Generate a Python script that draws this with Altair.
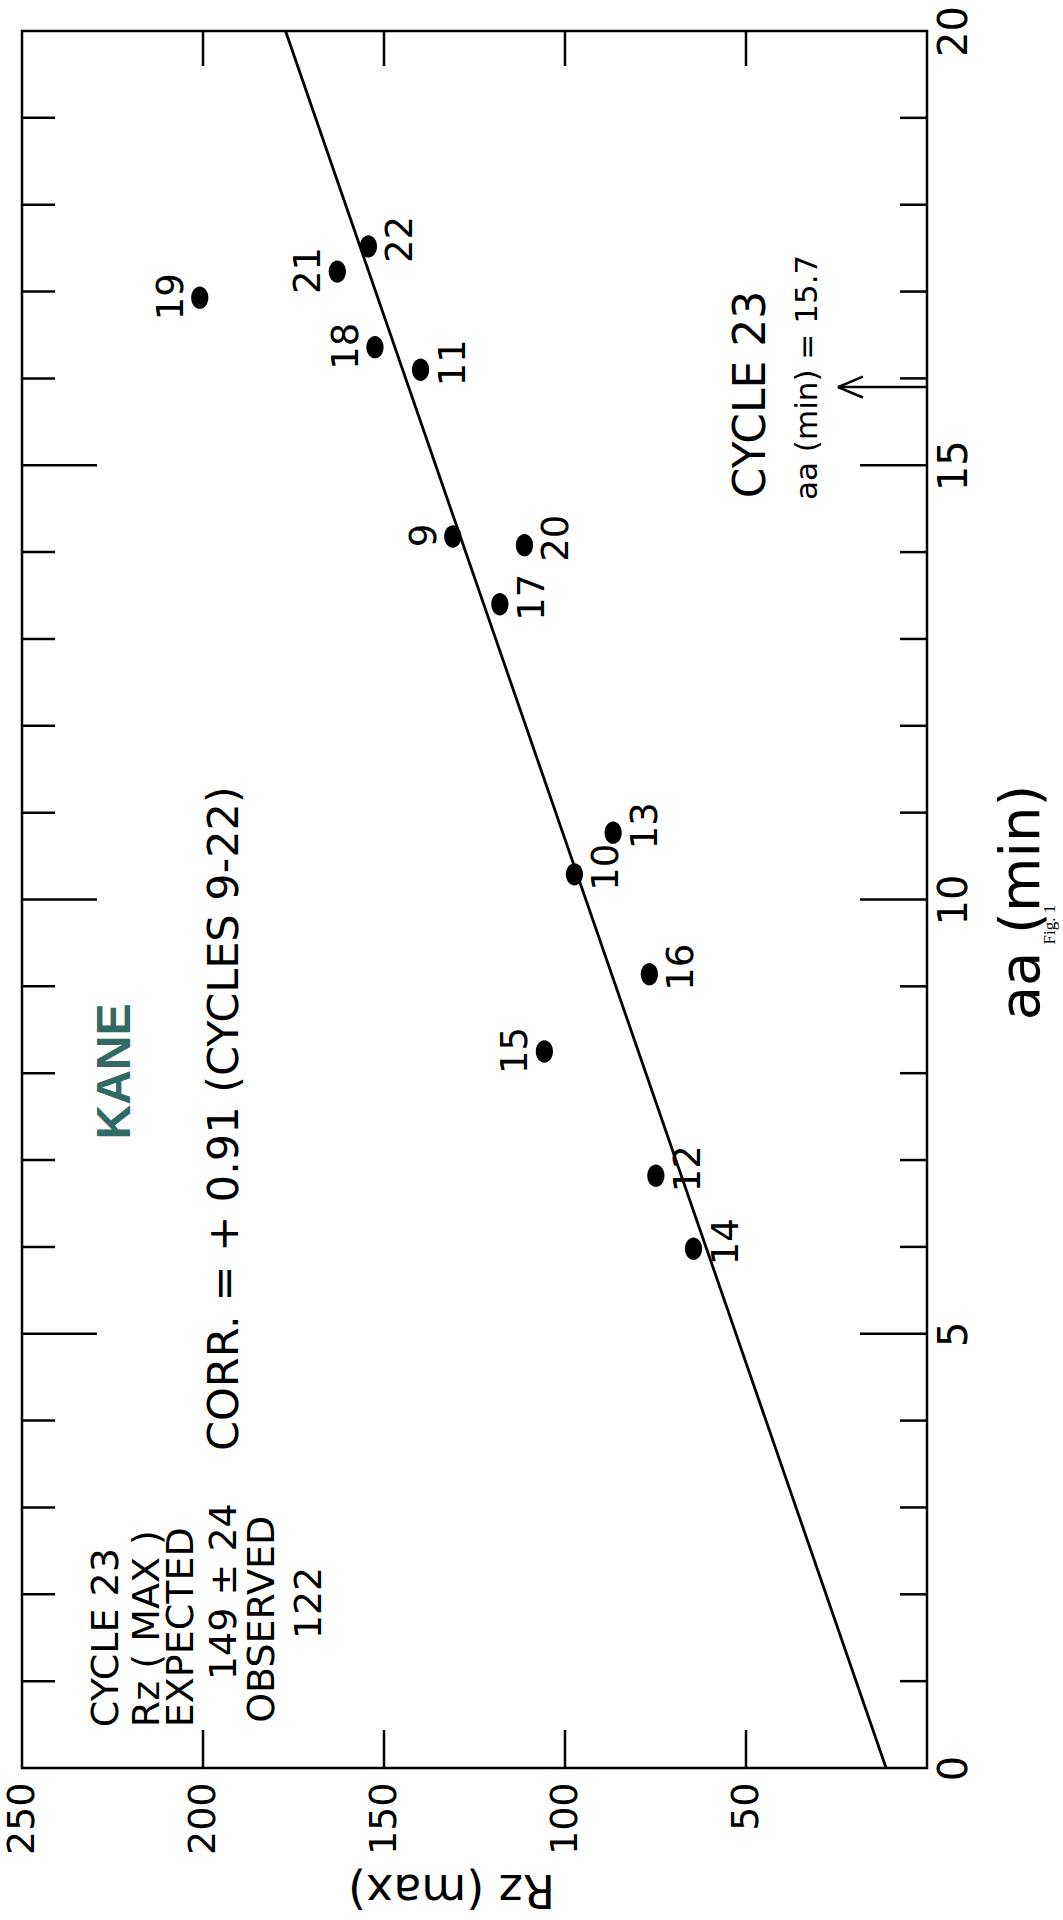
import altair as alt
import pandas as pd

# ---- data ----
cycles = [9, 10, 11, 12, 13, 14, 15, 16, 17, 18, 19, 20, 21, 22]
aa_min = [14.18, 10.29, 16.10, 6.82, 10.77, 5.98, 8.25, 9.14, 13.40, 16.36, 16.93, 14.08, 17.23, 17.52]
rz_max = [131.0, 97.4, 139.9, 74.9, 86.7, 64.5, 105.7, 76.7, 118.0, 152.5, 200.9, 111.2, 162.9, 154.3]
label_side = ["left", "right", "right", "right", "right", "right", "left",
              "right", "right", "left", "left", "right", "left", "right"]

fit_aa = [0.0, 20.0]
fit_rz = [11.3, 177.2]

rz_ticks = [50, 100, 150, 200]
rz_labels = [50, 100, 150, 200, 250]
aa_labels = [0, 5, 10, 15, 20]
aa_minor = [1, 2, 3, 4, 6, 7, 8, 9, 11, 12, 13, 14, 16, 17, 18, 19]
aa_major = [5, 10, 15]

# arrow marking cycle 23 aa(min)
arrow_aa = 15.9
arrow_tip_rz = 24.6
arrow_wing_rz = 17.7
arrow_wing_da = 0.12

ann_left_text = ["CYCLE 23", "Rz ( MAX )", "EXPECTED", "OBSERVED"]
ann_left_rz = [226.5, 215.2, 205.8, 183.4]
ann_left_aa = [0.47, 0.47, 0.47, 0.52]

ann_center_text = ["149 ± 24", "122"]
ann_center_rz = [193.9, 170.4]
ann_center_aa = [2.03, 1.90]

corr_text = ["CORR. = + 0.91 (CYCLES 9-22)"]
corr_rz = [193.9]
corr_aa = [3.65]

cyc_text = ["CYCLE 23"]
cyc_rz = [48.3]
cyc_aa = [14.62]

aamin_text = ["aa (min) = 15.7"]
aamin_rz = [32.9]
aamin_aa = [14.60]

kane_text = ["KANE"]
kane_rz = [224.0]
kane_aa = [8.02]

fig_text = ["Fig. 1"]
fig_rz = [-34.0]
fig_aa = [9.71]

# ---- tables ----
pts = pd.DataFrame({"cycle": cycles, "aa": aa_min, "Rz": rz_max, "side": label_side})
pts["lab"] = pts["cycle"].astype(str)
fit = pd.DataFrame({"aa": fit_aa, "Rz": fit_rz})
rzt = pd.DataFrame({"Rz": rz_ticks})
aam = pd.DataFrame({"aa": aa_minor})
aaM = pd.DataFrame({"aa": aa_major})
arrow_shaft = pd.DataFrame({"aa": [arrow_aa], "Rz": [0.0], "Rz2": [arrow_tip_rz]})
arrow_wings = pd.DataFrame({
    "Rz": [arrow_tip_rz, arrow_tip_rz],
    "Rz2": [arrow_wing_rz, arrow_wing_rz],
    "aa": [arrow_aa, arrow_aa],
    "aa2": [arrow_aa + arrow_wing_da, arrow_aa - arrow_wing_da],
})
annL = pd.DataFrame({"text": ann_left_text, "Rz": ann_left_rz, "aa": ann_left_aa})
annC = pd.DataFrame({"text": ann_center_text, "Rz": ann_center_rz, "aa": ann_center_aa})
corr = pd.DataFrame({"text": corr_text, "Rz": corr_rz, "aa": corr_aa})
cyc = pd.DataFrame({"text": cyc_text, "Rz": cyc_rz, "aa": cyc_aa})
aamin = pd.DataFrame({"text": aamin_text, "Rz": aamin_rz, "aa": aamin_aa})
kane = pd.DataFrame({"text": kane_text, "Rz": kane_rz, "aa": kane_aa})
fig = pd.DataFrame({"text": fig_text, "Rz": fig_rz, "aa": fig_aa})

W, H = 905, 1737
FONT = "DejaVu Sans"
xs = alt.Scale(domain=[0, 250], reverse=True)
ys = alt.Scale(domain=[0, 20])

X_axis = alt.Axis(values=rz_labels, labelAngle=270, labelAlign="right", labelBaseline="middle",
                  labelFontSize=38, labelPadding=14, labelFlush=False, labelOverlap=False,
                  ticks=False, domain=False, grid=False,
                  title="Rz (max)", titleAngle=180, titleFontSize=46, titleAlign="center",
                  titleBaseline="alphabetic", titleX=429, titleY=106)
Y_axis = alt.Axis(orient="right", values=aa_labels, labelAngle=270, labelAlign="center",
                  labelBaseline="top", labelFontSize=40, labelPadding=7, labelFlush=False,
                  labelOverlap=False, ticks=False, domain=False, grid=False,
                  title="aa (min)", titleAngle=270, titleFontSize=56, titleAlign="center",
                  titleBaseline="middle", titleX=94, titleY=871)


def X():
    return alt.X("Rz:Q", scale=xs, axis=X_axis)


def Y():
    return alt.Y("aa:Q", scale=ys, axis=Y_axis)


ellipse = "M0,-1A0.77,1,0,1,1,0,1A0.77,1,0,1,1,0,-1Z"

points = alt.Chart(pts).mark_point(shape=ellipse, filled=True, size=500, color="black",
                                   opacity=1, strokeWidth=0).encode(x=X(), y=Y())

line = alt.Chart(fit).mark_line(color="black", strokeWidth=2.8).encode(x=X(), y=Y())

# dx/dy are applied in the rotated text frame: screen (sx, sy) -> dx=-sy, dy=sx
lab_right = alt.Chart(pts).transform_filter("datum.side == 'right'").mark_text(
    angle=270, align="center", baseline="middle", dx=7, dy=33, fontSize=37, font=FONT, color="black"
).encode(x=X(), y=Y(), text="lab:N")
lab_left = alt.Chart(pts).transform_filter("datum.side == 'left'").mark_text(
    angle=270, align="center", baseline="middle", dx=1, dy=-28, fontSize=37, font=FONT, color="black"
).encode(x=X(), y=Y(), text="lab:N")

tick_bottom = alt.Chart(rzt).mark_rule(color="black", strokeWidth=2.5).encode(
    x=X(), y=alt.value(H), y2=alt.value(H - 38))
tick_top = alt.Chart(rzt).mark_rule(color="black", strokeWidth=2.5).encode(
    x=X(), y=alt.value(0), y2=alt.value(35))
tick_left_m = alt.Chart(aam).mark_rule(color="black", strokeWidth=2.5).encode(
    y=Y(), x=alt.value(0), x2=alt.value(33))
tick_left_M = alt.Chart(aaM).mark_rule(color="black", strokeWidth=2.5).encode(
    y=Y(), x=alt.value(0), x2=alt.value(75))
tick_right_m = alt.Chart(aam).mark_rule(color="black", strokeWidth=2.5).encode(
    y=Y(), x=alt.value(W), x2=alt.value(W - 27))
tick_right_M = alt.Chart(aaM).mark_rule(color="black", strokeWidth=2.5).encode(
    y=Y(), x=alt.value(W), x2=alt.value(W - 67))

shaft = alt.Chart(arrow_shaft).mark_rule(color="black", strokeWidth=2.5).encode(
    x=X(), x2="Rz2:Q", y=Y())
wings = alt.Chart(arrow_wings).mark_rule(color="black", strokeWidth=2.5).encode(
    x=X(), x2="Rz2:Q", y=Y(), y2="aa2:Q")

annL_c = alt.Chart(annL).mark_text(angle=270, align="left", baseline="middle", fontSize=38,
                                   font=FONT, color="black").encode(x=X(), y=Y(), text="text:N")
annC_c = alt.Chart(annC).mark_text(angle=270, align="center", baseline="middle", fontSize=38,
                                   font=FONT, color="black").encode(x=X(), y=Y(), text="text:N")
corr_c = alt.Chart(corr).mark_text(angle=270, align="left", baseline="middle", fontSize=43,
                                   font=FONT, color="black").encode(x=X(), y=Y(), text="text:N")
cyc_c = alt.Chart(cyc).mark_text(angle=270, align="left", baseline="middle", fontSize=44,
                                 font=FONT, color="black").encode(x=X(), y=Y(), text="text:N")
aamin_c = alt.Chart(aamin).mark_text(angle=270, align="left", baseline="middle", fontSize=31,
                                     font=FONT, color="black").encode(x=X(), y=Y(), text="text:N")
kane_c = alt.Chart(kane).mark_text(angle=270, align="center", baseline="middle", fontSize=48,
                                   fontWeight="bold", font="Liberation Sans",
                                   color="#336964").encode(x=X(), y=Y(), text="text:N")
fig_c = alt.Chart(fig).mark_text(angle=270, align="center", baseline="middle", fontSize=17,
                                 font="Liberation Serif", color="black").encode(
    x=X(), y=Y(), text="text:N")

chart = alt.layer(
    points, line, lab_right, lab_left,
    tick_bottom, tick_top, tick_left_m, tick_left_M, tick_right_m, tick_right_M,
    shaft, wings, annL_c, annC_c, corr_c, cyc_c, aamin_c, kane_c, fig_c,
).properties(
    width=W, height=H,
    autosize=alt.AutoSizeParams(type="none"),
    padding={"left": 22, "top": 31, "right": 136, "bottom": 152},
    background="white",
).configure_view(
    stroke="black", strokeWidth=2.5
).configure_axis(
    labelFont=FONT, titleFont=FONT, labelColor="black", titleColor="black",
    titleFontWeight="normal",
)

chart.save("out.html", embed_options={"renderer": "svg", "actions": False})
